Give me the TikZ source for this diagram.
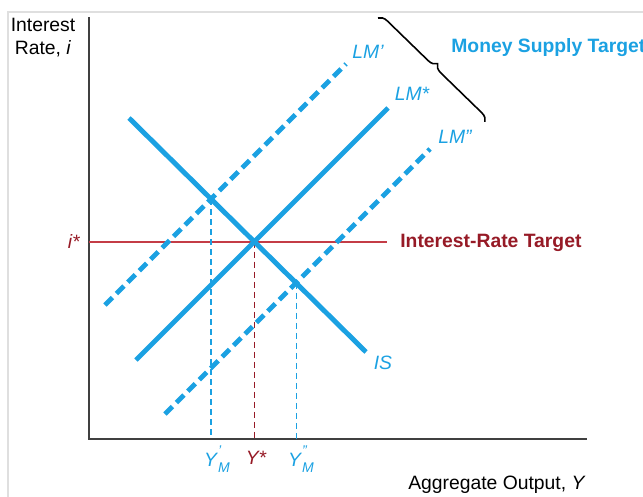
\documentclass[tikz,border=0pt]{standalone}
\usepackage{fontspec}
\setmainfont{Liberation Sans}
\usetikzlibrary{positioning,decorations.pathreplacing,intersections}
\definecolor{cvblue}{RGB}{27,161,226}
\definecolor{cvred}{RGB}{150,26,38}
\definecolor{cvline}{RGB}{196,60,70}
\tikzset{
  curve/.style={line width=2.8pt,cvblue},
  dcurve/.style={curve,dash pattern=on 6pt off 3.2pt},
  axisline/.style={line width=0.8pt,black!75},
  guide/.style={line width=0.6pt,dash pattern=on 3.4pt off 2.3pt},
  lbl/.style={font=\fontsize{11}{13}\selectfont\itshape,text=cvblue,inner sep=0pt},
  ttl/.style={font=\fontsize{11}{13}\selectfont\bfseries,inner sep=0pt},
  axlbl/.style={font=\fontsize{11}{13}\selectfont,align=center,inner sep=0pt},
}
\newcommand{\ysub}[1]{\textit{Y}\kern0.6pt{\fontsize{8}{8}\selectfont
  \rlap{\raisebox{1.5ex}{\textit{#1}}}\raisebox{-0.8ex}{\textit{M}}}}

\begin{document}
\begin{tikzpicture}[x=0.02cm,y=-0.02cm]
  \useasboundingbox (0,0) rectangle (643,497);
  %% Frame
  \draw[gray!25,line width=0.6pt] (8,497) -- (8,12) -- (643,12);
  %% Axes
  \coordinate (O) at (89,439);
  \coordinate (ytop) at (89,17);
  \coordinate (xend) at (587,439);
  \draw[axisline] (ytop) -- (O) -- (xend);
  \node[axlbl] (ylab) at (43,38) {Interest\\Rate, \textit{i}};
  \node[axlbl,anchor=east] (xlab) at (586,485) {Aggregate Output, \textit{Y}};
  %% Curve end points
  \coordinate (isa) at (129,118);   \coordinate (isb) at (366,352);
  \coordinate (lma) at (136,360);   \coordinate (lmb) at (388,108);
  \coordinate (lmpa) at (105,305);  \coordinate (lmpb) at (346,64);
  \coordinate (lmqa) at (165,414);  \coordinate (lmqb) at (430,149);
  \coordinate (iend) at (387,242);
  %% Hidden paths for crossings
  \path[name path=IS] (isa) -- (isb);
  \path[name path=LMs] (lma) -- (lmb);
  \path[name path=LMp] (lmpa) -- (lmpb);
  \path[name path=LMq] (lmqa) -- (lmqb);
  \path[name intersections={of=IS and LMs,by=pstar}];
  \path[name intersections={of=IS and LMp,by=pone}];
  \path[name intersections={of=IS and LMq,by=ptwo}];
  %% Interest-rate target line
  \draw[cvline,line width=1pt] (pstar -| O) -- (pstar -| iend);
  %% Guides to the output axis
  \draw[guide,cvblue] (pone) -- (pone |- O);
  \draw[guide,cvred] (pstar) -- (pstar |- O);
  \draw[guide,cvblue] (ptwo) -- (ptwo |- O);
  %% IS and LM curves
  \draw[dcurve] (lmpa) -- (lmpb);
  \draw[dcurve] (lmqa) -- (lmqb);
  \draw[curve] (lma) -- (lmb);
  \draw[curve] (isa) -- (isb);
  %% Brace over the LM range
  \coordinate (bra) at (378,18);
  \coordinate (brb) at (485,122);
  \draw[decorate,decoration={brace,amplitude=5pt},line width=0.9pt] (bra) -- (brb);
  %% Labels
  \node[lbl] (lmp) at (368,52) {LM'};
  \node[lbl] (lms) at (412,94) {LM*};
  \node[lbl] (lmq) at (455,137) {LM''};
  \node[lbl] (islbl) at (383,363) {IS};
  \node[lbl,text=cvred,anchor=east] (istar) at (80,241) {i*};
  \node[ttl,text=cvblue,anchor=west] (mst) at (451,48) {Money Supply Target};
  \node[ttl,text=cvred,anchor=west] (irt) at (400,243) {Interest-Rate Target};
  \node[lbl] (y1) at (217,459) {\ysub{'}};
  \node[lbl,text=cvred] (ys) at (256,458) {Y*};
  \node[lbl] (y2) at (301,459) {\ysub{''}};
\end{tikzpicture}
\end{document}
